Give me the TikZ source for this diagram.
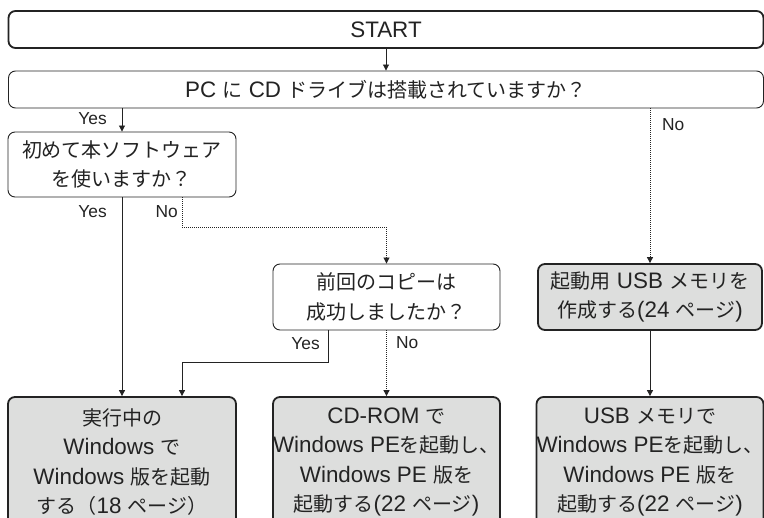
\documentclass[tikz,border=0pt]{standalone}
\usepackage{fontspec}
\setmainfont[Scale=1.12]{Liberation Sans}
\newfontfamily\jp{Noto Sans CJK JP}
\usetikzlibrary{arrows.meta,calc}
\definecolor{boxgray}{RGB}{221,222,221}
\definecolor{ink}{RGB}{35,35,35}
\tikzset{
  base/.style={rounded corners=7pt, align=center, inner sep=0pt, text=ink, draw=ink,
    font=\fontsize{20}{29.5}\selectfont},
  thinbox/.style={base, line width=0.9pt, fill=white},
  thickbox/.style={base, line width=1.8pt, fill=white},
  graybox/.style={base, line width=1.8pt, fill=boxgray},
  arr/.style={draw=ink, line width=0.9pt, -{Triangle[length=6pt,width=6pt]}},
  dotarr/.style={arr, dash pattern=on 0.9pt off 1.1pt},
  lbl/.style={inner sep=0pt, text=ink, font=\fontsize{15.5}{18}\selectfont}
}
\begin{document}
\begin{tikzpicture}[x=1pt,y=-1pt]
\useasboundingbox (0,0) rectangle (764,518);
\fill[white] (0,0) rectangle (764,518);
\clip (0,0) rectangle (764,518);

\node[thickbox, minimum width=755pt, minimum height=37pt] (start) at (386,29.5) {START};
\node[thinbox, minimum width=755pt, minimum height=37pt] (pc) at (386,89.5) {PC {\jp に} CD {\jp ドライブは搭載されていますか？}};
\node[thinbox, minimum width=228pt, minimum height=65pt] (q1) at (122,164.5) {\jp 初めて本ソフトウェア\\\jp を使いますか？};
\node[thinbox, minimum width=227pt, minimum height=66pt] (q2) at (386.5,297) {\jp 前回のコピーは\\\jp 成功しましたか？};
\node[graybox, minimum width=224pt, minimum height=66pt] (mk) at (650,297) {{\jp 起動用} USB {\jp メモリを}\\{\jp 作成する}(24 {\jp ページ})};
\node[graybox, minimum width=228pt, minimum height=130pt] (b1) at (122,462) {\jp 実行中の\\Windows {\jp で}\\Windows {\jp 版を起動}\\{\jp する（}18 {\jp ページ）}};
\node[graybox, minimum width=227pt, minimum height=130pt] (b2) at (386.5,462) {CD-ROM {\jp で}\\Windows PE{\jp を起動し、}\\Windows PE {\jp 版を}\\{\jp 起動する}(22 {\jp ページ})};
\node[graybox, minimum width=224pt, minimum height=130pt] (b3) at (650,462) {USB {\jp メモリで}\\Windows PE{\jp を起動し、}\\Windows PE {\jp 版を}\\{\jp 起動する}(22 {\jp ページ})};

\draw[arr] (start.south) -- (pc.north);
\draw[arr] (q1.north |- pc.south) -- (q1.north);
\draw[dotarr] (mk.north |- pc.south) -- (mk.north);
\draw[arr] (q1.south) -- (b1.north);
\draw[dotarr] ($(q1.south east)+(-54,0)$) -- ++(0,30) -| (q2.north);
\draw[arr] ($(q2.south west)+(56,0)$) -- ++(0,32) -| ($(b1.north)+(60,0)$);
\draw[dotarr] (q2.south) -- (b2.north);
\draw[arr] (mk.south) -- (b3.north);

\node[lbl, anchor=east] (y1) at (107,119) {Yes};
\node[lbl, anchor=west] (n1) at (662,125) {No};
\node[lbl, anchor=east] (y2) at (107,212) {Yes};
\node[lbl, anchor=east] (n2) at (178,212) {No};
\node[lbl, anchor=east] (y3) at (320,344) {Yes};
\node[lbl, anchor=west] (n3) at (396,343) {No};
\end{tikzpicture}
\end{document}
